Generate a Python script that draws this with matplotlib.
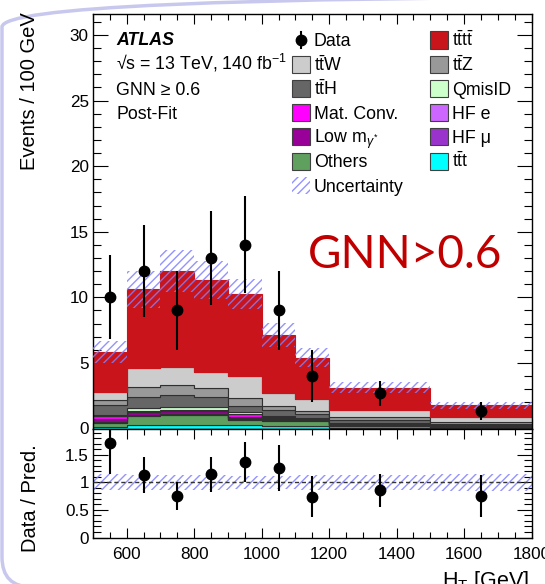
import numpy as np
import matplotlib
matplotlib.use("Agg")
import matplotlib.pyplot as plt
from matplotlib.patches import Rectangle, FancyBboxPatch
from matplotlib.transforms import IdentityTransform
from matplotlib.ticker import MultipleLocator, FixedLocator

plt.rcParams['font.family'] = ['Liberation Sans', 'DejaVu Sans']
plt.rcParams['mathtext.fontset'] = 'custom'
plt.rcParams['mathtext.rm'] = 'Liberation Sans'
plt.rcParams['mathtext.it'] = 'Liberation Sans:italic'
plt.rcParams['mathtext.bf'] = 'Liberation Sans:bold'
plt.rcParams['hatch.linewidth'] = 1.0

# ---------------- data ----------------
bin_edges = [500, 600, 700, 800, 900, 1000, 1100, 1200, 1500, 1800]
data_vals = [10, 12, 9, 13, 14, 9, 4, 2.67, 1.33]
data_err = [3.2, 3.5, 3.0, 3.6, 3.7, 3.0, 2.0, 0.94, 0.67]

# stacked backgrounds (events / 100 GeV), bottom -> top
ttt     = [0.12, 0.25, 0.28, 0.28, 0.28, 0.20, 0.22, 0.07, 0.03]
others  = [0.31, 0.69, 0.74, 0.74, 0.36, 0.36, 0.33, 0.10, 0.07]
hf_mu   = [0.08, 0.08, 0.08, 0.10, 0.07, 0.08, 0.06, 0.06, 0.03]
low_m   = [0.20, 0.20, 0.20, 0.20, 0.10, 0.12, 0.06, 0.07, 0.04]
hf_e    = [0.05, 0.05, 0.05, 0.05, 0.10, 0.05, 0.04, 0.03, 0.02]
matconv = [0.20, 0.08, 0.03, 0.03, 0.16, 0.03, 0.03, 0.03, 0.02]
qmisid  = [0.10, 0.18, 0.26, 0.26, 0.16, 0.10, 0.05, 0.05, 0.03]
tth     = [0.70, 0.90, 0.94, 0.77, 0.50, 0.46, 0.30, 0.21, 0.12]
ttz     = [0.38, 0.72, 0.72, 0.64, 0.57, 0.33, 0.26, 0.25, 0.14]
ttw     = [0.64, 1.45, 1.38, 1.22, 1.74, 0.95, 0.87, 0.57, 0.38]
tttt    = [3.07, 6.00, 7.32, 7.01, 6.21, 4.47, 3.18, 1.68, 0.89]
unc     = [0.85, 1.43, 1.60, 1.46, 1.14, 0.90, 0.72, 0.40, 0.26]

components = [
    ("ttt", ttt, "#00ffff"),
    ("Others", others, "#5fa05f"),
    ("HF mu", hf_mu, "#9933cc"),
    ("Low m", low_m, "#990099"),
    ("HF e", hf_e, "#cc66ff"),
    ("Mat. Conv.", matconv, "#ff00ff"),
    ("QmisID", qmisid, "#ccffcc"),
    ("ttH", tth, "#666666"),
    ("ttZ", ttz, "#999999"),
    ("ttW", ttw, "#cccccc"),
    ("tttt", tttt, "#c8141a"),
]

edges = np.array(bin_edges, dtype=float)
centers = 0.5 * (edges[1:] + edges[:-1])
dv = np.array(data_vals, dtype=float)
de = np.array(data_err, dtype=float)

# ---------------- figure ----------------
W, H = 545, 584
fig = plt.figure(figsize=(W / 100, H / 100), dpi=100)

ax_l, ax_r = 93, 531.5
main_top, main_bot = 14, 428.5
rat_bot = 537.5
ax = fig.add_axes([ax_l / W, 1 - main_bot / H, (ax_r - ax_l) / W, (main_bot - main_top) / H])
rax = fig.add_axes([ax_l / W, 1 - rat_bot / H, (ax_r - ax_l) / W, (rat_bot - main_bot) / H], sharex=ax)

hcol = (0.5, 0.5, 1.0, 0.85)
hpat = '////'

base = np.zeros(len(centers))
for name, vals, col in components:
    v = np.array(vals, dtype=float)
    ec = col if name == "tttt" else "#303030"
    ax.stairs(base + v, edges, baseline=base.copy(), fill=True, facecolor=col,
              edgecolor=ec, linewidth=0.8, zorder=2)
    base = base + v
total = base
u = np.array(unc, dtype=float)
ax.stairs(total + u, edges, baseline=total - u, fill=True, facecolor='none',
          edgecolor=hcol, hatch=hpat, linewidth=0, zorder=3)
ax.errorbar(centers, dv, yerr=de, fmt='o', color='black', markersize=7.5,
            elinewidth=1.5, capsize=0, zorder=5)

ax.set_xlim(500, 1800)
ax.set_ylim(0, 31.6)

# ratio
ratio = dv / total
rerr = de / total
runc = u / total
rax.stairs(1 + runc, edges, baseline=1 - runc, fill=True, facecolor='none',
           edgecolor=hcol, hatch=hpat, linewidth=0, zorder=2)
rax.axhline(1.0, color='#333333', ls=(0, (3, 2)), lw=1.0, zorder=3)
rax.errorbar(centers, ratio, yerr=rerr, fmt='o', color='black', markersize=7.5,
             elinewidth=1.5, capsize=0, zorder=5)
rax.set_ylim(0, 1.98)

# ticks
for a in (ax, rax):
    a.tick_params(which='both', direction='in', top=True, right=True, labelsize=12.3)
    a.xaxis.set_major_locator(MultipleLocator(200))
    a.xaxis.set_minor_locator(MultipleLocator(50))
    a.tick_params(axis='x', which='major', length=7.5, width=0.8)
    a.tick_params(axis='x', which='minor', length=4, width=0.8)
    a.tick_params(axis='y', which='major', length=11, width=0.8, pad=3)
    a.tick_params(axis='y', which='minor', length=6, width=0.8)
    for s in a.spines.values():
        s.set_linewidth(1.0)
ax.yaxis.set_major_locator(MultipleLocator(5))
ax.yaxis.set_minor_locator(MultipleLocator(1))
rax.yaxis.set_major_locator(FixedLocator([0, 0.5, 1.0, 1.5]))
rax.yaxis.set_minor_locator(MultipleLocator(0.1))
rax.set_yticklabels(["0", "0.5", "1", "1.5"])
ax.tick_params(axis='x', labelbottom=False)
rax.tick_params(axis='x', pad=7)

# axis titles
fig.text(30 / W, 1 - 12 / H, "Events / 100 GeV", rotation=90, ha='center', va='top', fontsize=14.5)
fig.text(30 / W, 1 - 444 / H, "Data / Pred.", rotation=90, ha='center', va='top', fontsize=14.5)
fig.text(441.7 / W, 1 - 569 / H, r"$\mathrm{H_T}$ [GeV]", ha='left', va='top', fontsize=15.5)

# ---------------- labels ----------------
def axf(x, y):
    return ((x - ax_l) / (ax_r - ax_l), (main_bot - y) / (main_bot - main_top))

fs = 12.8
x0 = 116
ax.text(*axf(x0, 45.4), "ATLAS", fontsize=fs, fontweight='bold', style='italic',
        transform=ax.transAxes, va='baseline', ha='left')
ax.text(*axf(x0, 69.9), "√s = 13 TeV, 140 fb$^{-1}$", fontsize=fs,
        transform=ax.transAxes, va='baseline', ha='left')
ax.text(*axf(x0, 94.7), "GNN ≥ 0.6", fontsize=fs, transform=ax.transAxes, va='baseline', ha='left')
ax.text(*axf(x0, 119.1), "Post-Fit", fontsize=fs, transform=ax.transAxes, va='baseline', ha='left')

# manual legend
colors = {n: c for n, _, c in components}
col1 = [("Data", None), (r"$\mathrm{t\bar{t}W}$", "ttW"), (r"$\mathrm{t\bar{t}H}$", "ttH"),
        ("Mat. Conv.", "Mat. Conv."), (r"Low m$_{\gamma^{*}}$", "Low m"), ("Others", "Others"),
        ("Uncertainty", "unc")]
col2 = [(r"$\mathrm{t\bar{t}t\bar{t}}$", "tttt"), (r"$\mathrm{t\bar{t}Z}$", "ttZ"), ("QmisID", "QmisID"),
        ("HF e", "HF e"), ("HF μ", "HF mu"), (r"$\mathrm{t\bar{t}t}$", "ttt")]
row0, pitch = 40.0, 24.2
bw, bh = 18.0, 17.0
sx = (ax_r - ax_l)
sy = (main_bot - main_top)
for colx, entries in ((291.7, col1), (430.0, col2)):
    for i, (lab, key) in enumerate(entries):
        yc = row0 + i * pitch
        if key is None:
            ax.plot([axf(colx + bw / 2, yc)[0]] * 2, [axf(0, yc - 8)[1], axf(0, yc + 8)[1]],
                    color='black', lw=1.5, transform=ax.transAxes, clip_on=False, zorder=6)
            ax.plot([axf(colx + bw / 2, yc)[0]], [axf(0, yc)[1]], 'o', color='black', ms=7.5,
                    transform=ax.transAxes, clip_on=False, zorder=6)
        elif key == "unc":
            ax.add_patch(Rectangle(axf(colx, yc + bh / 2), bw / sx, bh / sy, transform=ax.transAxes,
                                   facecolor='none', edgecolor=hcol, hatch=hpat, linewidth=0, zorder=6))
        else:
            ec = '#404040'
            ax.add_patch(Rectangle(axf(colx, yc + bh / 2), bw / sx, bh / sy, transform=ax.transAxes,
                                   facecolor=colors[key], edgecolor=ec, linewidth=0.8, zorder=6))
        ax.text(*axf(colx + bw + 4, yc + 6.4), lab, fontsize=fs, transform=ax.transAxes,
                va='baseline', ha='left', zorder=7)

# slide annotation
fig.text(405 / W, 1 - 268 / H, "GNN>0.6", color='#c00000', fontsize=33, family=['Lato', 'DejaVu Sans'],
         ha='center', va='baseline')

# slide frame (rounded border)
frame = FancyBboxPatch((2, -3), 700, 590, boxstyle="round,pad=0,rounding_size=30",
                       transform=IdentityTransform(), facecolor='none', edgecolor='#c8c8ee', linewidth=2.5)
fig.patches.append(frame)

fig.savefig("out.png", dpi=100)
